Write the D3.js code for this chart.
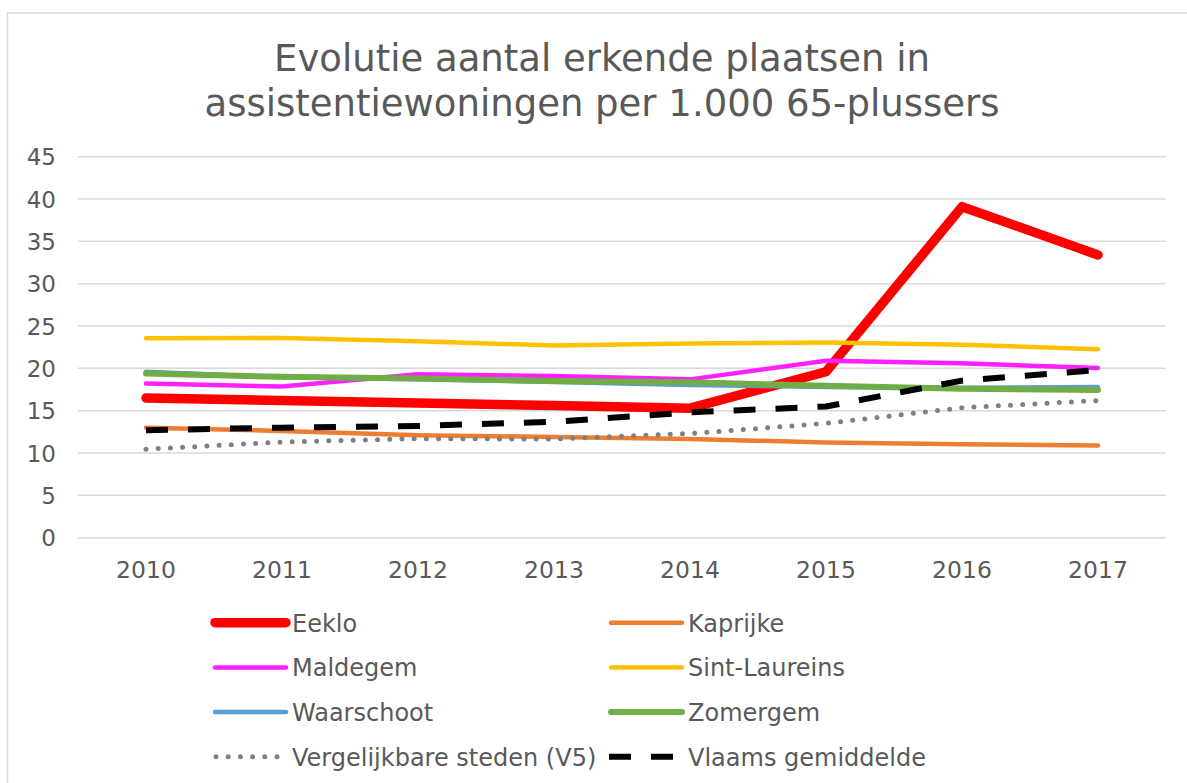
<!DOCTYPE html>
<html>
<head>
<meta charset="utf-8">
<script src="https://cdn.jsdelivr.net/npm/d3@7"></script>
<style>
    body { margin: 0; background: #fff; }
    svg text { font-family: "DejaVu Sans", Verdana, sans-serif; fill: #595959; }
</style>
</head>
<body>
<svg id="svg" width="1187" height="783"></svg>
<script>
const years = ["2010", "2011", "2012", "2013", "2014", "2015", "2016", "2017"];
const yTicks = [0, 5, 10, 15, 20, 25, 30, 35, 40, 45];
const titleLines = ["Evolutie aantal erkende plaatsen in", "assistentiewoningen per 1.000 65-plussers"];

const eeklo = [16.5, 16.2, 15.9, 15.6, 15.3, 19.6, 39.1, 33.4];
const kaprijke = [13.0, 12.6, 12.1, 11.9, 11.65, 11.25, 11.05, 10.9];
const maldegem = [18.2, 17.85, 19.3, 19.1, 18.7, 20.9, 20.6, 20.05];
const sintLaureins = [23.55, 23.6, 23.2, 22.7, 22.95, 23.05, 22.8, 22.25];
const waarschoot = [19.6, 18.95, 18.7, 18.4, 18.05, 17.8, 17.7, 17.8];
const zomergem = [19.4, 19.0, 18.8, 18.5, 18.35, 17.95, 17.6, 17.45];
const vergelijkbaar = [10.45, 11.3, 11.7, 11.65, 12.3, 13.5, 15.35, 16.2];
const vlaams = [12.7, 13.0, 13.2, 13.7, 14.8, 15.5, 18.55, 19.8];

let series = [
    { name: "Eeklo", values: eeklo, color: "#ff0000", width: 9.5 },
    { name: "Kaprijke", values: kaprijke, color: "#ed7d31", width: 4.5 },
    { name: "Maldegem", values: maldegem, color: "#ff1fff", width: 4.5 },
    { name: "Sint-Laureins", values: sintLaureins, color: "#ffc000", width: 4.5 },
    { name: "Waarschoot", values: waarschoot, color: "#5b9bd5", width: 4.5 },
    { name: "Zomergem", values: zomergem, color: "#70ad47", width: 6 },
    { name: "Vergelijkbare steden (V5)", values: vergelijkbaar, color: "#808080", width: 5, dash: "0,12.2", cap: "round" },
    { name: "Vlaams gemiddelde", values: vlaams, color: "#000000", width: 6, dash: "22,20", cap: "butt" }
];

let svg = d3.select("#svg");

// outer chart frame (runs past the right/bottom edge like the screenshot)
svg.append("rect")
    .attr("x", 7.5)
    .attr("y", 13)
    .attr("width", 1200)
    .attr("height", 800)
    .attr("fill", "#fff")
    .attr("stroke", "#d9d9d9")
    .attr("stroke-width", 1.5);

let title = svg.append("text")
    .attr("x", 602)
    .attr("y", 71)
    .attr("text-anchor", "middle")
    .style("font-size", "37px");
titleLines.forEach((t, i) => {
    title.append("tspan")
        .attr("x", 602)
        .attr("dy", i == 0 ? 0 : 45)
        .text(t);
});

const plotLeft = 78, plotRight = 1166;
const plotTop = 156.7, plotBottom = 537.7;

let xScale = d3.scaleBand()
    .domain(years)
    .range([plotLeft, plotRight]);

let yScale = d3.scaleLinear()
    .domain([0, 45])
    .range([plotBottom, plotTop]);

// gridlines
svg.append("g")
    .selectAll("line")
    .data(yTicks)
    .join("line")
    .attr("x1", plotLeft)
    .attr("x2", plotRight)
    .attr("y1", d => yScale(d))
    .attr("y2", d => yScale(d))
    .attr("stroke", "#d9d9d9")
    .attr("stroke-width", 1.5);

let yAxis = svg.append("g")
    .attr("transform", "translate(56,0)")
    .call(d3.axisLeft(yScale).tickValues(yTicks).tickSize(0).tickPadding(0));
yAxis.select(".domain").remove();
yAxis.selectAll("text")
    .attr("dy", "0.36em")
    .style("font-size", "23px")
    .style("font-family", "DejaVu Sans, Verdana, sans-serif")
    .attr("fill", "#595959");

let xAxis = svg.append("g")
    .attr("transform", `translate(0,${plotBottom})`)
    .call(d3.axisBottom(xScale).tickSize(0).tickPadding(0));
xAxis.select(".domain").remove();
xAxis.selectAll("text")
    .attr("y", 40)
    .attr("dy", 0)
    .style("font-size", "23.5px")
    .style("font-family", "DejaVu Sans, Verdana, sans-serif")
    .attr("fill", "#595959");

let line = d3.line()
    .x((d, i) => xScale(years[i]) + xScale.bandwidth() / 2)
    .y(d => yScale(d));

svg.append("g")
    .selectAll("path")
    .data(series)
    .join("path")
    .attr("d", d => line(d.values))
    .attr("fill", "none")
    .attr("stroke", d => d.color)
    .attr("stroke-width", d => d.width)
    .attr("stroke-linejoin", "round")
    .attr("stroke-linecap", d => d.cap || "round")
    .attr("stroke-dasharray", d => d.dash || null);

// legend: two columns, four rows
const legendX = [213, 609];
const legendY0 = 622.7, legendRowStep = 44.7, sampleLen = 73;

let legend = svg.append("g")
    .selectAll("g")
    .data(series)
    .join("g")
    .attr("transform", (d, i) => `translate(${legendX[i % 2]},${legendY0 + Math.floor(i / 2) * legendRowStep})`);

legend.append("line")
    .attr("x1", d => d.dash ? (d.cap == "round" ? 3 : 0) : 2)
    .attr("x2", sampleLen)
    .attr("y1", 0)
    .attr("y2", 0)
    .attr("stroke", d => d.color)
    .attr("stroke-width", d => d.width)
    .attr("stroke-linecap", d => d.cap || "round")
    .attr("stroke-dasharray", d => d.dash || null);

legend.append("text")
    .attr("x", sampleLen + 6)
    .attr("y", 9)
    .style("font-size", "24px")
    .text(d => d.name);
</script>
</body>
</html>
